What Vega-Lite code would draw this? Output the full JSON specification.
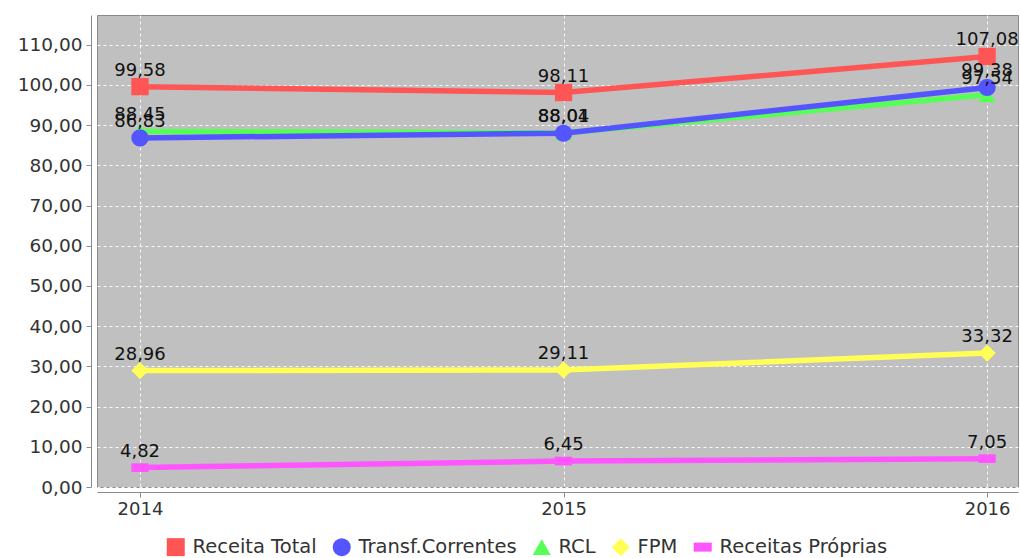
{
  "$schema": "https://vega.github.io/schema/vega-lite/v6.json",
  "width": 921,
  "height": 472,
  "autosize": "none",
  "padding": {"left": 97, "top": 15, "right": 3, "bottom": 71},
  "config": {
    "locale": {"number": {"decimal": ",", "thousands": ".", "grouping": [3], "currency": ["R$", ""]}},
    "font": "DejaVu Sans",
    "view": {"fill": "#c0c0c0", "stroke": "#8a8a8a", "strokeWidth": 1}
  },
  "data": {
    "values": [
      {"ano": 2014, "serie": "Receitas Próprias", "valor": 4.82},
      {"ano": 2015, "serie": "Receitas Próprias", "valor": 6.45},
      {"ano": 2016, "serie": "Receitas Próprias", "valor": 7.05},
      {"ano": 2014, "serie": "FPM", "valor": 28.96},
      {"ano": 2015, "serie": "FPM", "valor": 29.11},
      {"ano": 2016, "serie": "FPM", "valor": 33.32},
      {"ano": 2014, "serie": "RCL", "valor": 88.45},
      {"ano": 2015, "serie": "RCL", "valor": 88.04},
      {"ano": 2016, "serie": "RCL", "valor": 97.54},
      {"ano": 2014, "serie": "Transf.Correntes", "valor": 86.83},
      {"ano": 2015, "serie": "Transf.Correntes", "valor": 88.01},
      {"ano": 2016, "serie": "Transf.Correntes", "valor": 99.38},
      {"ano": 2014, "serie": "Receita Total", "valor": 99.58},
      {"ano": 2015, "serie": "Receita Total", "valor": 98.11},
      {"ano": 2016, "serie": "Receita Total", "valor": 107.08}
    ]
  },
  "encoding": {
    "x": {
      "field": "ano", "type": "quantitative",
      "scale": {"domain": [2013.8985, 2016.073], "nice": false, "zero": false},
      "axis": {
        "title": null, "values": [2014, 2015, 2016], "format": "d",
        "grid": true, "gridColor": "#ffffff", "gridDash": [3, 3], "gridOpacity": 0.9,
        "domainColor": "#8a8a8a", "tickColor": "#8a8a8a", "tickSize": 5, "offset": 5,
        "labelFontSize": 18, "labelColor": "#333333", "labelPadding": 3
      }
    },
    "y": {
      "field": "valor", "type": "quantitative",
      "scale": {"domain": [0, 117.4], "nice": false},
      "axis": {
        "title": null, "values": [0, 10, 20, 30, 40, 50, 60, 70, 80, 90, 100, 110], "format": ".2f",
        "grid": true, "gridColor": "#ffffff", "gridDash": [3, 3], "gridOpacity": 0.9,
        "domainColor": "#8a8a8a", "tickColor": "#8a8a8a", "tickSize": 5, "offset": 6,
        "labelFontSize": 18.5, "labelColor": "#333333", "labelPadding": 4
      }
    },
    "color": {
      "field": "serie", "type": "nominal",
      "scale": {
        "domain": ["Receita Total", "Transf.Correntes", "RCL", "FPM", "Receitas Próprias"],
        "range": ["#ff5555", "#5555ff", "#55ff55", "#ffff55", "#ff55ff"]
      },
      "legend": {
        "title": null, "orient": "none", "direction": "horizontal",
        "legendX": 69, "legendY": 522,
        "symbolSize": 324, "symbolStrokeWidth": 0, "symbolOpacity": 1,
        "labelFontSize": 19.5, "labelColor": "#333333", "labelOffset": 7, "columnPadding": 15, "labelLimit": 400
      }
    }
  },
  "layer": [
    {
      "mark": {"type": "line", "strokeWidth": 5.5}
    },
    {
      "transform": [{"calculate": "datum.serie", "as": "marcador"}],
      "mark": {"type": "point", "filled": true, "opacity": 1, "size": 300},
      "encoding": {
        "shape": {
          "field": "marcador", "type": "nominal",
          "scale": {
            "domain": ["Receita Total", "Transf.Correntes", "RCL", "FPM", "Receitas Próprias"],
            "range": ["square", "circle", "triangle-up", "diamond", "M-1,-0.5H1V0.5H-1Z"]
          },
          "legend": null
        }
      }
    },
    {
      "mark": {"type": "text", "dy": -11, "baseline": "alphabetic", "align": "center", "fontSize": 18, "color": "#111111"},
      "encoding": {
        "text": {"field": "valor", "type": "quantitative", "format": ".2f"},
        "color": {"value": "#111111"}
      }
    }
  ]
}
